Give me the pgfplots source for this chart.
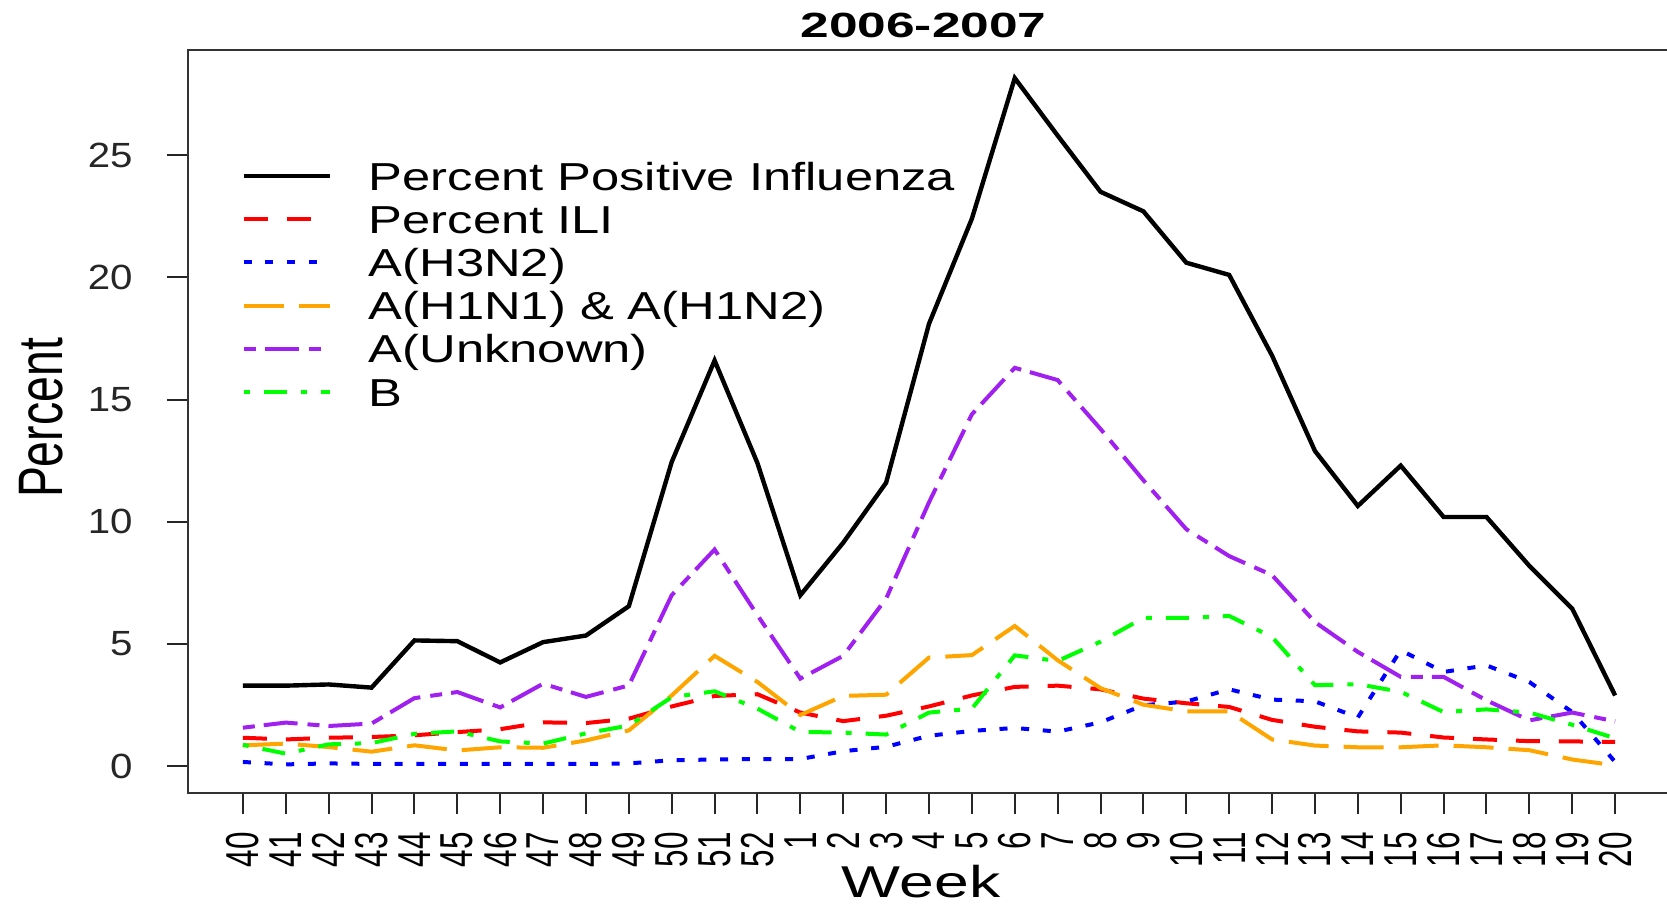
\documentclass[border=0pt]{standalone}
\usepackage{pgfplots}
\pgfplotsset{compat=1.18}
\usepackage{fontspec}
\setmainfont{Liberation Sans}
\usepackage{graphicx}

\definecolor{rred}{HTML}{FF0000}
\definecolor{rblue}{HTML}{0000FF}
\definecolor{rorange}{HTML}{FFA500}
\definecolor{rpurple}{HTML}{A020F0}
\definecolor{rgreen}{HTML}{00FF00}

% the source picture is stretched sideways, so the text is too
\newcommand{\yl}[1]{\scalebox{1.15}[1]{#1}}
\newcommand{\xl}[1]{\scalebox{1}[1.47]{#1}}
\newcommand{\legtxt}[1]{\scalebox{1.3}[1]{#1}}

% idx: 0 = week 40 ... 12 = week 52, 13 = week 1 ... 32 = week 20
\pgfplotstableread{
idx black ili h3 h1 unk b
0  3.30 1.17 0.18 0.86 1.58 0.88
1  3.30 1.10 0.08 0.93 1.79 0.52
2  3.35 1.17 0.12 0.79 1.65 0.90
3  3.22 1.20 0.10 0.60 1.75 0.95
4  5.15 1.27 0.10 0.86 2.79 1.33
5  5.12 1.40 0.10 0.65 3.04 1.43
6  4.25 1.52 0.10 0.78 2.41 1.02
7  5.08 1.80 0.10 0.76 3.38 0.93
8  5.35 1.77 0.10 1.06 2.84 1.35
9  6.55 1.95 0.12 1.47 3.31 1.67
10 12.45 2.45 0.25 2.90 7.00 2.83
11 16.60 2.88 0.28 4.52 8.87 3.07
12 12.40 2.95 0.30 3.45 6.18 2.36
13 7.00 2.20 0.30 2.10 3.59 1.41
14 9.15 1.85 0.62 2.88 4.52 1.38
15 11.60 2.07 0.80 2.93 6.86 1.30
16 18.10 2.45 1.25 4.45 10.80 2.20
17 22.40 2.90 1.45 4.55 14.40 2.36
18 28.15 3.25 1.57 5.74 16.30 4.54
19 25.80 3.30 1.42 4.34 15.80 4.31
20 23.50 3.15 1.80 3.20 13.80 5.10
21 22.70 2.77 2.50 2.52 11.70 6.07
22 20.60 2.58 2.65 2.25 9.70 6.07
23 20.10 2.43 3.15 2.25 8.60 6.15
24 16.80 1.90 2.73 1.10 7.82 5.29
25 12.90 1.62 2.66 0.85 5.90 3.32
26 10.65 1.43 2.00 0.78 4.68 3.36
27 12.30 1.38 4.75 0.78 3.66 3.05
28 10.20 1.18 3.86 0.86 3.66 2.22
29 10.20 1.10 4.13 0.78 2.70 2.33
30 8.20 1.03 3.45 0.66 1.88 2.20
31 6.45 1.02 2.22 0.28 2.20 1.70
32 2.90 1.00 0.18 0.04 1.84 1.15
}\flu

\begin{document}
\begin{tikzpicture}
\begin{axis}[
    at={(94pt,56pt)}, anchor=south west,
    scale only axis, width=741pt, height=371.5pt,
    xmin=-1.28, xmax=33.28, ymin=-1.09, ymax=29.3,
    axis line style={black!80, line width=1.3pt},
    tick align=outside, major tick length=10.5pt,
    tick style={black!85, line width=1pt},
    xtick pos=bottom, ytick pos=left,
    xtick={0,...,32},
    xticklabels={\xl{40},\xl{41},\xl{42},\xl{43},\xl{44},\xl{45},\xl{46},\xl{47},\xl{48},\xl{49},\xl{50},\xl{51},\xl{52},
                 \xl{1},\xl{2},\xl{3},\xl{4},\xl{5},\xl{6},\xl{7},\xl{8},\xl{9},\xl{10},
                 \xl{11},\xl{12},\xl{13},\xl{14},\xl{15},\xl{16},\xl{17},\xl{18},\xl{19},\xl{20}},
    xticklabel style={rotate=90, anchor=east, inner sep=0pt, font=\fontsize{15.7}{18}\selectfont},
    xticklabel shift=9pt,
    ytick={0,5,10,15,20,25},
    yticklabels={\yl{0},\yl{5},\yl{10},\yl{15},\yl{20},\yl{25}},
    yticklabel style={anchor=east, inner sep=0pt, font=\fontsize{17.5}{20}\selectfont, black!85},
    yticklabel shift=17pt,
    title={\scalebox{1.47}[1]{2006-2007}},
    title style={font=\bfseries\fontsize{17.5}{20}\selectfont, at={(axis description cs:0.4963,1.0162)}, anchor=base, yshift=-6pt, inner sep=0pt},
    xlabel={\scalebox{1.4}[1]{Week}},
    xlabel style={font=\fontsize{22.3}{25}\selectfont, at={(axis description cs:0.4946,-0.1413)}, anchor=base, inner sep=0pt},
    ylabel={\scalebox{1}[1.355]{Percent}},
    ylabel style={font=\fontsize{23.2}{26}\selectfont, at={(axis description cs:-0.0850,0.5047)}, anchor=base, inner sep=0pt},
    legend style={at={(axis description cs:0.0358,0.8600)}, anchor=north west,
        draw=none, fill=none, inner sep=0pt, row sep=0pt, column sep=18.5pt,
        font=\fontsize{19.5}{22}\selectfont,
        nodes={inner sep=0pt, text height=17.8pt, text depth=3.8pt}},
    legend cell align=left,
    legend image code/.code={\draw[#1] (0pt,0pt) -- (43pt,0pt);},
]
\addplot[black, line width=2.2pt] table[x=idx, y=black] {\flu};
\addlegendentry{\legtxt{Percent Positive Influenza}}
\addplot[rred, line width=2pt, dash pattern=on 12pt off 9.5pt] table[x=idx, y=ili] {\flu};
\addlegendentry{\legtxt{Percent ILI}}
\addplot[rblue, line width=2pt, dash pattern=on 4pt off 6.85pt] table[x=idx, y=h3] {\flu};
\addlegendentry{\legtxt{A(H3N2)}}
\addplot[rorange, line width=2pt, dash pattern=on 20pt off 7.5pt] table[x=idx, y=h1] {\flu};
\addlegendentry{\legtxt{A(H1N1) \& A(H1N2)}}
\addplot[rpurple, line width=2pt, dash pattern=on 6pt off 4.5pt on 17pt off 5pt] table[x=idx, y=unk] {\flu};
\addlegendentry{\legtxt{A(Unknown)}}
\addplot[rgreen, line width=2pt, dash pattern=on 3pt off 7pt on 11.5pt off 7pt] table[x=idx, y=b] {\flu};
\addlegendentry{\legtxt{B}}
\end{axis}
\pgfresetboundingbox
\useasboundingbox (0,0) rectangle (833.5pt,452.5pt);
\end{tikzpicture}
\end{document}
